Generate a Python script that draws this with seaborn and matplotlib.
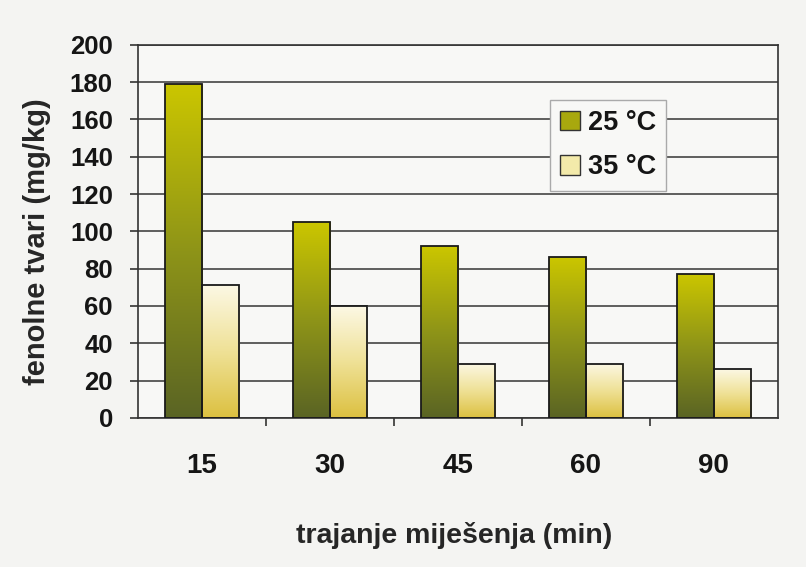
import numpy as np
import pandas as pd
import matplotlib
matplotlib.use("Agg")
import matplotlib.pyplot as plt
from matplotlib.colors import LinearSegmentedColormap
from matplotlib.patches import Patch
import seaborn as sns

# values (phenolic compounds, mg/kg)
durations = ["15", "30", "45", "60", "90"]
phenols_25 = [179, 105, 92, 86, 77]
phenols_35 = [71, 60, 29, 29, 26]
series = ["25 °C", "35 °C"]
y_ticks = list(range(0, 201, 20))

df = pd.DataFrame({
    "trajanje": durations * 2,
    "fenoli": phenols_25 + phenols_35,
    "temp": [series[0]] * len(durations) + [series[1]] * len(durations),
})

sns.set_style("white")
plt.rcParams["font.family"] = ["Liberation Sans", "DejaVu Sans"]
plt.rcParams["font.weight"] = "bold"
plt.rcParams["text.color"] = "#151515"

fig = plt.figure(figsize=(8.06, 5.67), dpi=100, facecolor="#f4f4f2")
ax = fig.add_axes([0.171, 0.263, 0.794, 0.658])
ax.set_facecolor("#f8f8f6")

sns.barplot(data=df, x="trajanje", y="fenoli", hue="temp", order=durations,
            hue_order=series, width=0.58, ax=ax, edgecolor="#1a1a1a",
            linewidth=1.3, legend=False, saturation=1)

# gradient fills like the original (dark olive / pale yellow)
cmap_dark = LinearSegmentedColormap.from_list("d", ["#5a6424", "#8e9418", "#cbc600"])
cmap_light = LinearSegmentedColormap.from_list("l", ["#dcc040", "#efe196", "#fcf8e4"])
grad = np.linspace(0, 1, 256).reshape(-1, 1)
for i, bar in enumerate(ax.patches):
    cmap = cmap_dark if i < len(durations) else cmap_light
    x0, w, h = bar.get_x(), bar.get_width(), bar.get_height()
    im = ax.imshow(grad, cmap=cmap, origin="lower", aspect="auto",
                   extent=[x0, x0 + w, 0, h], zorder=2)
    im.set_clip_path(bar)
    bar.set_facecolor("none")
    bar.set_zorder(3)

ax.set_xlim(-0.5, len(durations) - 0.5)
ax.set_ylim(0, 200)
ax.set_yticks(y_ticks)
ax.set_axisbelow(True)
ax.yaxis.grid(True, color="#444444", linewidth=1.2)

ax.set_xticks(range(len(durations)))
ax.set_xticklabels(durations)
ax.set_xticks([i + 0.5 for i in range(len(durations) - 1)], minor=True)
ax.tick_params(axis="x", which="major", bottom=True, length=0, pad=25,
               labelsize=20, labelcolor="#151515")
ax.tick_params(axis="x", which="minor", bottom=True, length=6, width=1.2,
               color="#333333", direction="out")
ax.tick_params(axis="y", left=True, length=6, width=1.2, color="#333333",
               direction="out", pad=12, labelsize=18.5, labelcolor="#151515")
for lab in ax.get_xticklabels() + ax.get_yticklabels():
    lab.set_fontweight("bold")

for sp in ax.spines.values():
    sp.set_visible(True)
    sp.set_color("#333333")
    sp.set_linewidth(1.2)

ax.set_xlabel("trajanje miješenja (min)", fontsize=20.5, fontweight="bold")
ax.set_ylabel("fenolne tvari (mg/kg)", fontsize=21, fontweight="bold")
ax.xaxis.label.set_va("center")
ax.yaxis.label.set_va("center")
ax.xaxis.set_label_coords(0.495, -0.316)
ax.yaxis.set_label_coords(-0.158, 0.472)

handles = [Patch(facecolor="#a8a80e", edgecolor="#333333"),
           Patch(facecolor="#f3eaaa", edgecolor="#333333")]
leg = ax.legend(handles, series, loc="upper left", bbox_to_anchor=(0.644, 0.853),
                fancybox=False, framealpha=1, facecolor="#f8f8f6",
                edgecolor="#aaaaaa", prop={"size": 19.5, "weight": "bold"},
                handlelength=0.74, handleheight=0.74, handletextpad=0.28,
                labelspacing=0.68, borderpad=0.38, borderaxespad=0)
leg.get_frame().set_linewidth(1.0)

fig.savefig("out.png", dpi=100, facecolor=fig.get_facecolor())
